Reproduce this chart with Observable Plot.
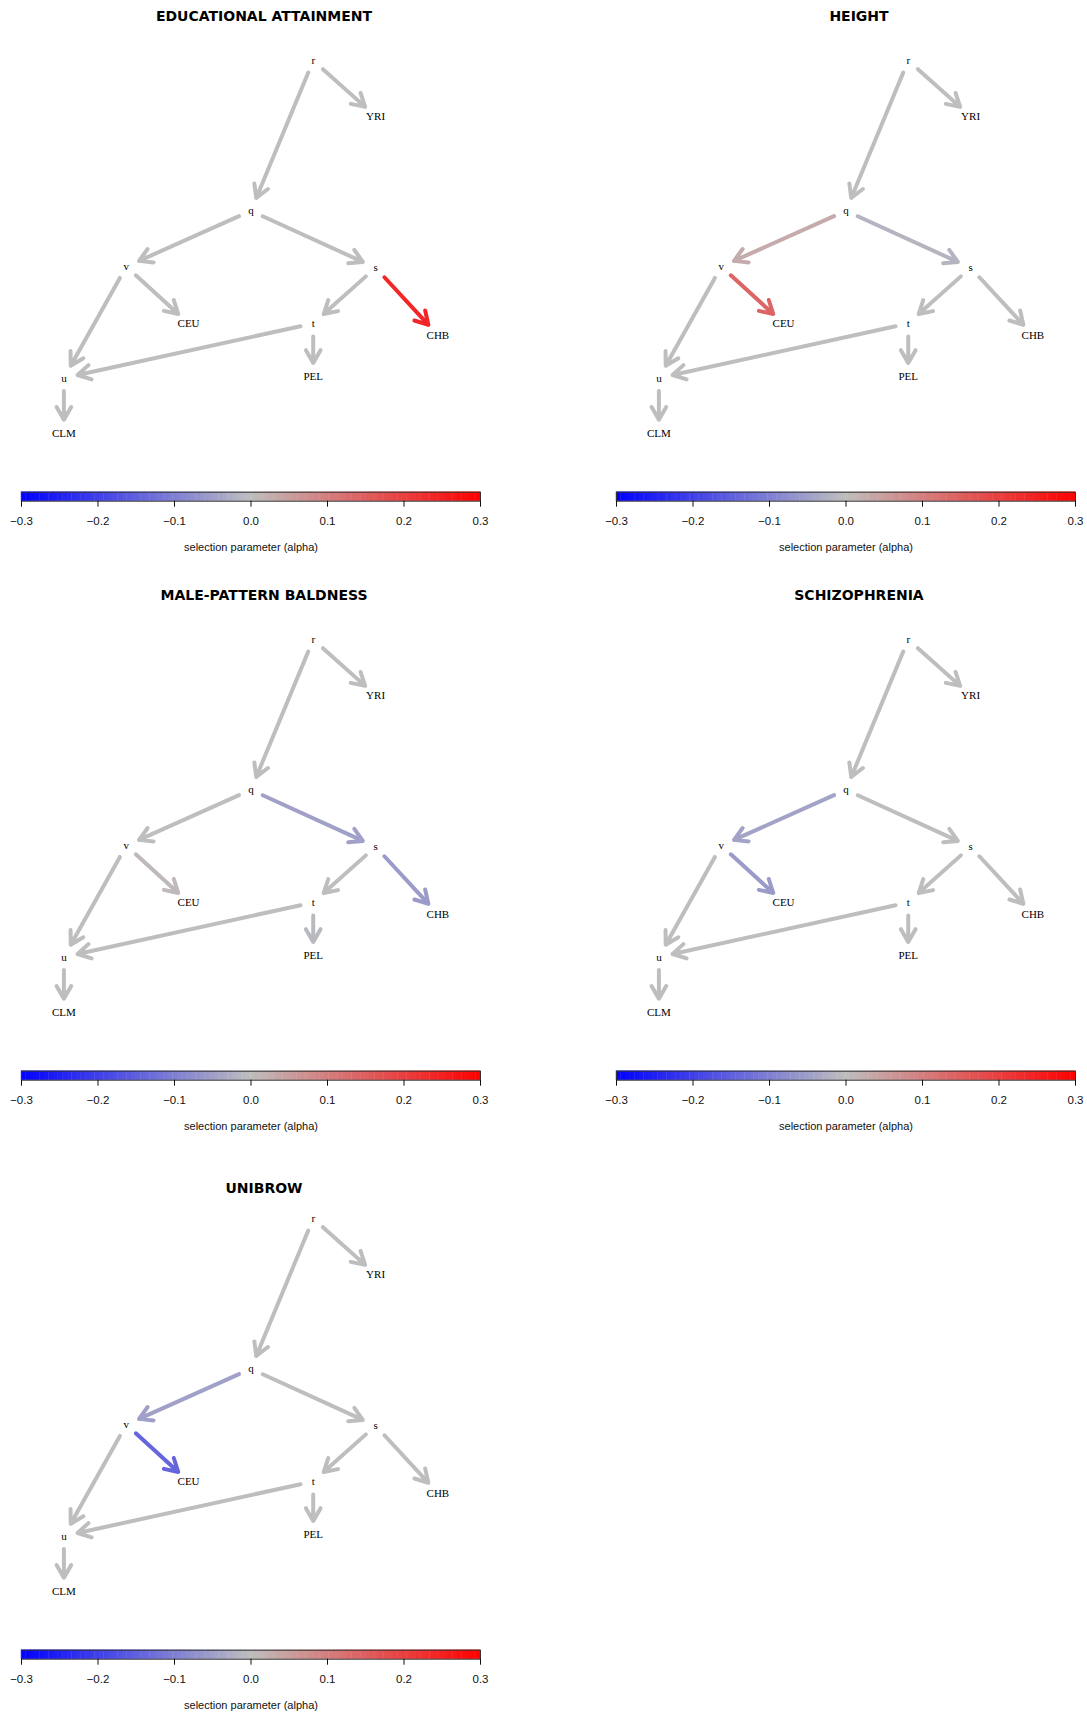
<!DOCTYPE html>
<html><head><meta charset="utf-8">
<script src="https://cdn.jsdelivr.net/npm/d3@7"></script>
<script src="https://cdn.jsdelivr.net/npm/@observablehq/plot@0.6"></script>
<style>
body{margin:0;background:#fff;}
#page{position:relative;width:1087px;height:1713px;overflow:hidden;background:#fff;}
.panel{position:absolute;width:492px;height:579px;}
.title{position:absolute;left:0;width:528px;text-align:center;font-family:"DejaVu Sans";font-weight:bold;font-size:14px;color:#000;line-height:20px;white-space:nowrap;}
.graph{position:absolute;left:0;top:0;}
.cbar{position:absolute;left:0;top:480px;}
</style></head><body><div id="page"></div>
<script>
// ---- data ----
const traits = ["EDUCATIONAL ATTAINMENT", "HEIGHT", "MALE-PATTERN BALDNESS", "SCHIZOPHRENIA", "UNIBROW"];
const nodeNames = ["r", "YRI", "q", "v", "s", "CEU", "t", "CHB", "u", "PEL", "CLM"];
const nodeX = [4, 5, 3, 1, 5, 2, 4, 6, 0, 4, 0];           // layout column
const nodeY = [0, 1, 2.7, 3.7, 3.72, 4.72, 4.72, 4.93, 5.7, 5.68, 6.7]; // layout depth
const edgeFrom = ["r", "r", "q", "q", "v", "v", "s", "s", "t", "t", "u"];
const edgeTo   = ["YRI", "q", "v", "s", "u", "CEU", "t", "CHB", "u", "PEL", "CLM"];
const alphaEducation   = [0, 0, 0, 0, 0, 0, 0, 0.24, 0, 0, 0];
const alphaHeight      = [0, 0, 0.03, -0.015, 0, 0.14, 0, 0, 0, 0, 0];
const alphaBaldness    = [0, 0, 0, -0.048, 0, 0.008, 0, -0.055, 0, -0.008, 0];
const alphaSchizo      = [0, 0, -0.042, 0, 0, -0.055, 0, 0, 0, 0, 0];
const alphaUnibrow     = [0, 0, -0.048, 0, 0, -0.14, 0, 0, 0, 0, 0];
const ticks = [-0.3, -0.2, -0.1, 0, 0.1, 0.2, 0.3];
const colorStops = [-0.3, 0, 0.3];
const colorRange = ["#0000FF", "#BEBEBE", "#FF0000"];
const axisLabel = "selection parameter (alpha)";

const traitAlphas = [alphaEducation, alphaHeight, alphaBaldness, alphaSchizo, alphaUnibrow];
const panelCol = [0, 1, 0, 1, 0];
const panelRow = [0, 0, 1, 1, 2];

const colorScale = {type: "linear", domain: colorStops, range: colorRange, interpolate: "rgb"};
const nodes = nodeNames.map((n, i) => ({name: n, x: nodeX[i], y: nodeY[i]}));
const idx = Object.fromEntries(nodeNames.map((n, i) => [n, i]));

const page = document.getElementById("page");

traits.forEach((trait, k) => {
  const panel = document.createElement("div");
  panel.className = "panel";
  panel.style.left = (panelCol[k] * 595) + "px";
  panel.style.top = (panelRow[k] * 579) + "px";
  page.appendChild(panel);

  const edges = edgeFrom.map((f, i) => ({
    x1: nodeX[idx[f]], y1: nodeY[idx[f]],
    x2: nodeX[idx[edgeTo[i]]], y2: nodeY[idx[edgeTo[i]]],
    alpha: traitAlphas[k][i]
  }));

  const graph = Plot.plot({
    width: 492, height: 470,
    marginTop: 0, marginBottom: 0, marginLeft: 0, marginRight: 0,
    x: {domain: [0, 6], range: [63.4, 437.4], axis: null},
    y: {domain: [0, 6.7], range: [60, 433.2], axis: null},
    color: colorScale,
    style: {background: "transparent"},
    marks: [
      Plot.arrow(edges, {
        x1: "x1", y1: "y1", x2: "x2", y2: "y2",
        stroke: "alpha", strokeWidth: 4,
        headLength: 5.5, headAngle: 60,
        insetStart: 13, insetEnd: 14
      }),
      Plot.text(nodes, {x: "x", y: "y", text: "name", fontFamily: "Liberation Serif", fontSize: 11, fill: "#000"})
    ]
  });
  graph.classList.add("graph");
  panel.appendChild(graph);

  const title = document.createElement("div");
  title.className = "title";
  title.textContent = trait;
  title.style.top = (k === 4 ? 19.5 : 6) + "px";
  panel.appendChild(title);

  const stripes = d3.range(100).map(i => {
    const a = -0.3 + i * 0.006;
    return {x1: a, x2: a + 0.006, v: a + 0.003};
  });

  const cbar = Plot.plot({
    width: 492, height: 80,
    marginTop: 11.7, marginBottom: 59.3, marginLeft: 21, marginRight: 12,
    x: {domain: [-0.3, 0.3]},
    y: {domain: [0, 1], axis: null},
    color: colorScale,
    style: {background: "transparent", fontFamily: "Liberation Sans", fontSize: "11px", color: "#111"},
    marks: [
      Plot.rect(stripes, {x1: "x1", x2: "x2", y1: 0, y2: 1, fill: "v", inset: -0.2}),
      Plot.frame({stroke: "#333", strokeWidth: 1}),
      Plot.axisX(ticks, {tickSize: 6, tickPadding: 10, label: null, fontSize: 11.5, tickFormat: d => d3.format(".1f")(d).replace("-", "\u2212")}),
      Plot.text([axisLabel], {x: 0, frameAnchor: "bottom", dy: 50, text: d => d, fontSize: 11, fontFamily: "Liberation Sans", fill: "#111"})
    ]
  });
  cbar.classList.add("cbar");
  panel.appendChild(cbar);
});
</script></body></html>
